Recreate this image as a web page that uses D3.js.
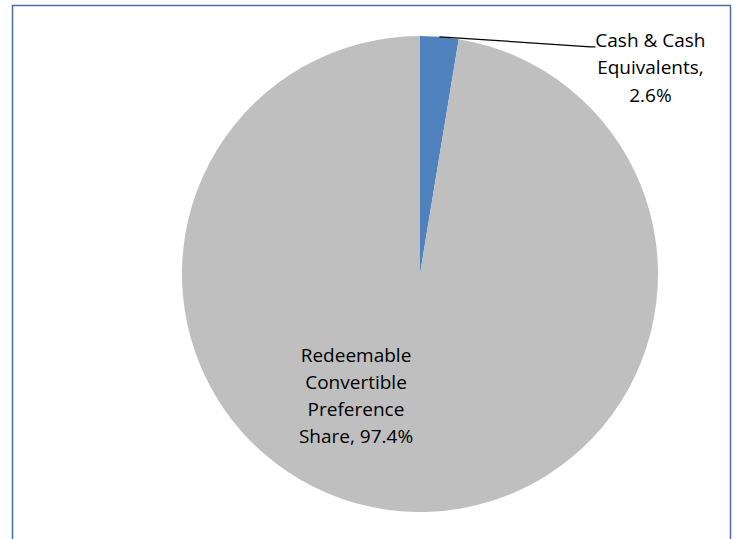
<!DOCTYPE html>
<html>
<head>
<meta charset="utf-8">
<script src="https://cdn.jsdelivr.net/npm/d3@7"></script>
<style>
  body { margin: 0; background: #fff; }
  text { font-family: "Open Sans", "Liberation Sans", sans-serif; fill: #000; }
</style>
</head>
<body>
<div id="chart"></div>
<script>
const categories = ["Cash & Cash Equivalents", "Redeemable Convertible Preference Share"];
const values = [2.6, 97.4];
const colors = ["#4f81bd", "#bfbfbf"];
const labelLines = [
  ["Cash & Cash", "Equivalents,", "2.6%"],
  ["Redeemable", "Convertible", "Preference", "Share, 97.4%"]
];

const width = 734, height = 539;
const cx = 420, cy = 274, radius = 238;

const svg = d3.select("#chart").append("svg")
  .attr("width", width)
  .attr("height", height);

// chart frame (bottom runs off the picture)
svg.append("path")
  .attr("d", `M12.5,${height + 5} V5.5 H730.5 V${height + 5}`)
  .attr("fill", "none")
  .attr("stroke", "#4a6f9e")
  .attr("stroke-width", 1.5);

const pie = d3.pie().sort(null).value(d => d);
const arcs = pie(values);
const arc = d3.arc().innerRadius(0).outerRadius(radius);

const g = svg.append("g").attr("transform", `translate(${cx},${cy})`);

g.selectAll(".slice")
  .data(arcs)
  .enter()
  .append("path")
  .attr("class", "slice")
  .attr("d", arc)
  .attr("fill", (d, i) => colors[i]);

// label for the small slice, outside with a leader line
const small = arcs[0];
const mid = (small.startAngle + small.endAngle) / 2;
const p0 = [radius * Math.sin(mid), -radius * Math.cos(mid)];
const elbow = [p0[0] + 151, p0[1] + 10];
const end = [elbow[0] + 5, elbow[1]];

g.append("polyline")
  .attr("points", [p0, elbow, end].map(p => p.join(",")).join(" "))
  .attr("fill", "none")
  .attr("stroke", "#000")
  .attr("stroke-width", 1.3);

const t1 = g.append("text")
  .attr("text-anchor", "middle")
  .style("font-size", "19px")
  .attr("transform", `translate(${end[0] + 55},${end[1] - 0})`);
labelLines[0].forEach((line, i) => {
  t1.append("tspan").attr("x", 0).attr("y", i * 27.5).text(line);
});

// label inside the large slice
const t2 = g.append("text")
  .attr("text-anchor", "middle")
  .style("font-size", "19px")
  .attr("transform", `translate(-64,88)`);
labelLines[1].forEach((line, i) => {
  t2.append("tspan").attr("x", 0).attr("y", i * 27).text(line);
});
</script>
</body>
</html>
